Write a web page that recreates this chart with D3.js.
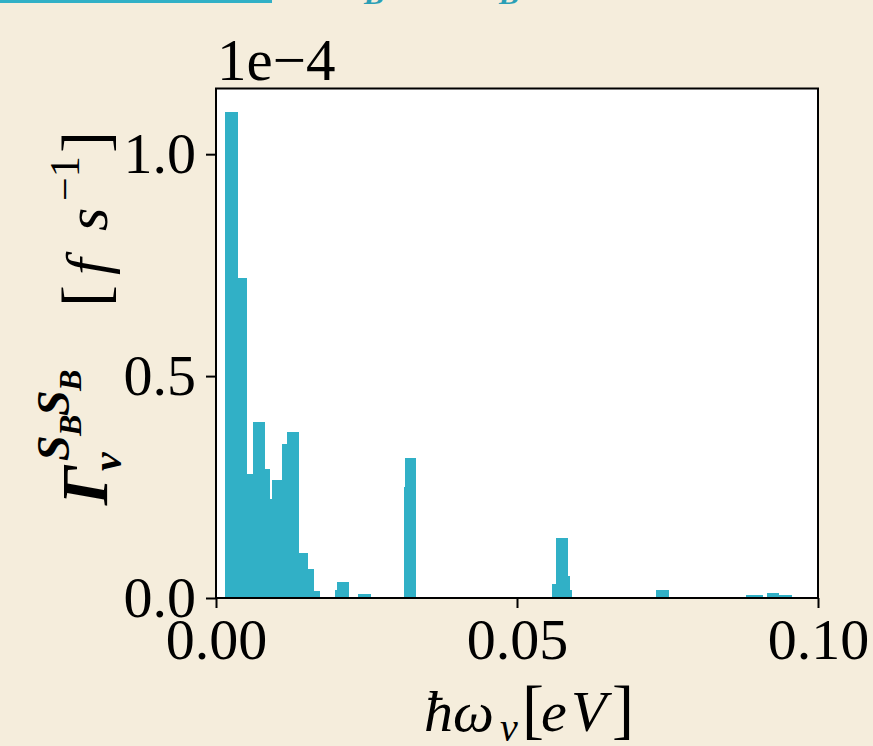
<!DOCTYPE html>
<html>
<head>
<meta charset="utf-8">
<script src="https://cdn.jsdelivr.net/npm/d3@7"></script>
<style>
  html, body { margin: 0; padding: 0; background: #f5eddc; }
  svg { display: block; }
</style>
</head>
<body>
<div class="chart"></div>
<script>
// Data laju relaksasi per mode (satuan 1e-4 fs^-1), tepi bin dalam eV
var binLo = [0.0015, 0.0036, 0.0051, 0.0062, 0.0081, 0.0090, 0.0093, 0.0109, 0.0118, 0.0138, 0.0152, 0.0162,
             0.0198, 0.0201, 0.0236, 0.0297, 0.0312, 0.0314,
             0.0558, 0.0565, 0.0585, 0.0588, 0.0731, 0.0880, 0.0916, 0.0936];
var binHi = [0.0036, 0.0051, 0.0062, 0.0081, 0.0090, 0.0093, 0.0109, 0.0118, 0.0138, 0.0152, 0.0162, 0.0172,
             0.0201, 0.0221, 0.0257, 0.0312, 0.0314, 0.0333,
             0.0565, 0.0585, 0.0588, 0.0592, 0.0752, 0.0909, 0.0936, 0.0956];
var gamma = [1.094, 0.721, 0.280, 0.397, 0.290, 0.223, 0.265, 0.348, 0.374, 0.102, 0.065, 0.016,
             0.017, 0.035, 0.010, 0.003, 0.250, 0.316,
             0.031, 0.136, 0.050, 0.017, 0.019, 0.006, 0.011, 0.007];

var xTicks = [0, 0.05, 0.10];
var yTicks = [0, 0.5, 1.0];

var rows = binLo.map(function(d, i) { return { lo: d, hi: binHi[i], v: gamma[i] }; });

var width = 873;
var height = 746;
var margin = { top: 88.5, right: 55, bottom: 148, left: 216 };
var teal = "#31b0c6";
var serif = "'Liberation Serif', 'Times New Roman', serif";

var svg = d3.select(".chart")
  .append("svg")
  .attr("width", width)
  .attr("height", height);

svg.append("rect")
  .attr("width", width)
  .attr("height", height)
  .attr("fill", "#f5eddc");

// Sisa legenda yang terpotong di bagian atas
svg.append("line")
  .attr("x1", 0).attr("x2", 272)
  .attr("y1", 1).attr("y2", 1)
  .attr("stroke", teal)
  .attr("stroke-width", 4);

var leg = svg.append("text")
  .attr("y", 4)
  .attr("fill", "#2a9fb6")
  .style("font-family", serif)
  .style("font-weight", "bold")
  .style("font-style", "italic");
leg.append("tspan").attr("x", 330).attr("dy", -14).style("font-size", "40px").text("S");
leg.append("tspan").attr("x", 364).attr("dy", 14).style("font-size", "30px").text("B");
leg.append("tspan").attr("x", 465).attr("dy", -14).style("font-size", "40px").text("S");
leg.append("tspan").attr("x", 499).attr("dy", 14).style("font-size", "30px").text("B");

var x = d3.scaleLinear()
  .domain([0, 0.10])
  .range([margin.left, width - margin.right]);

var y = d3.scaleLinear()
  .domain([0, 1.148])
  .range([height - margin.bottom, margin.top]);

// Area plot putih
svg.append("rect")
  .attr("x", x(0))
  .attr("y", y(1.148))
  .attr("width", x(0.10) - x(0))
  .attr("height", y(0) - y(1.148))
  .attr("fill", "white");

svg.selectAll(".bar")
  .data(rows)
  .enter().append("rect")
  .attr("class", "bar")
  .attr("x", function(d) { return x(d.lo); })
  .attr("y", function(d) { return y(d.v); })
  .attr("width", function(d) { return x(d.hi) - x(d.lo); })
  .attr("height", function(d) { return y(0) - y(d.v); })
  .attr("fill", teal)
  .attr("shape-rendering", "crispEdges");

var xAxis = d3.axisBottom(x)
  .tickValues(xTicks)
  .tickFormat(d3.format(".2f"))
  .tickSize(10)
  .tickPadding(10);

var yAxis = d3.axisLeft(y)
  .tickValues(yTicks)
  .tickFormat(d3.format(".1f"))
  .tickSize(10)
  .tickPadding(10);

var gx = svg.append("g")
  .attr("transform", "translate(0," + y(0) + ")")
  .call(xAxis);

var gy = svg.append("g")
  .attr("transform", "translate(" + x(0) + ",0)")
  .call(yAxis);

[gx, gy].forEach(function(g) {
  g.select(".domain").remove();
  g.selectAll("line").attr("stroke", "black").attr("stroke-width", 2);
  g.selectAll("text")
    .attr("fill", "black")
    .style("font-family", serif)
    .style("font-size", "58px");
});

// Bingkai plot
svg.append("rect")
  .attr("x", x(0))
  .attr("y", y(1.148))
  .attr("width", x(0.10) - x(0))
  .attr("height", y(0) - y(1.148))
  .attr("fill", "none")
  .attr("stroke", "black")
  .attr("stroke-width", 2);

// Faktor skala sumbu y
svg.append("text")
  .attr("x", 217)
  .attr("y", 80)
  .style("font-family", serif)
  .style("font-size", "59px")
  .text("1e\u22124");

// Label sumbu x
var xl = svg.append("text")
  .attr("y", 731)
  .style("font-family", serif)
  .style("font-size", "58px")
  .style("font-style", "italic");
xl.append("tspan").attr("x", 424).text("\u0127\u03c9");
xl.append("tspan").attr("x", 500).attr("dy", 10).style("font-size", "40px").text("\u03bd");
xl.append("tspan").attr("x", 522).attr("dy", -10).style("font-style", "normal").style("font-size", "66px").text("[");
xl.append("tspan").attr("x", 541).text("e");
xl.append("tspan").attr("x", 571).text("V");
xl.append("tspan").attr("x", 612).style("font-style", "normal").style("font-size", "66px").text("]");

// Label sumbu y (diputar)
var yl = svg.append("text")
  .attr("transform", "translate(107,319) rotate(-90)")
  .style("font-family", serif)
  .style("font-size", "60px");
yl.append("tspan").attr("x", -186).attr("y", 0)
  .style("font-weight", "bold").style("font-style", "italic").style("font-size", "66px").text("\u0393");
yl.append("tspan").attr("x", -152).attr("y", 14)
  .style("font-weight", "bold").style("font-style", "italic").style("font-size", "42px").text("\u03bd");
yl.append("tspan").attr("x", -142).attr("y", -38)
  .style("font-weight", "bold").style("font-style", "italic").style("font-size", "46px").text("S");
yl.append("tspan").attr("x", -117).attr("y", -26)
  .style("font-weight", "bold").style("font-style", "italic").style("font-size", "32px").text("B");
yl.append("tspan").attr("x", -97).attr("y", -38)
  .style("font-weight", "bold").style("font-style", "italic").style("font-size", "46px").text("S");
yl.append("tspan").attr("x", -72).attr("y", -26)
  .style("font-weight", "bold").style("font-style", "italic").style("font-size", "32px").text("B");
yl.append("tspan").attr("x", 12).attr("y", 0).style("font-size", "66px").text("[");
yl.append("tspan").attr("x", 44).attr("y", 0).style("font-style", "italic").text("f");
yl.append("tspan").attr("x", 88).attr("y", 0).style("font-style", "italic").text("s");
yl.append("tspan").attr("x", 118).attr("y", -28).style("font-size", "42px").text("\u22121");
yl.append("tspan").attr("x", 166).attr("y", 0).style("font-size", "66px").text("]");
</script>
</body>
</html>
